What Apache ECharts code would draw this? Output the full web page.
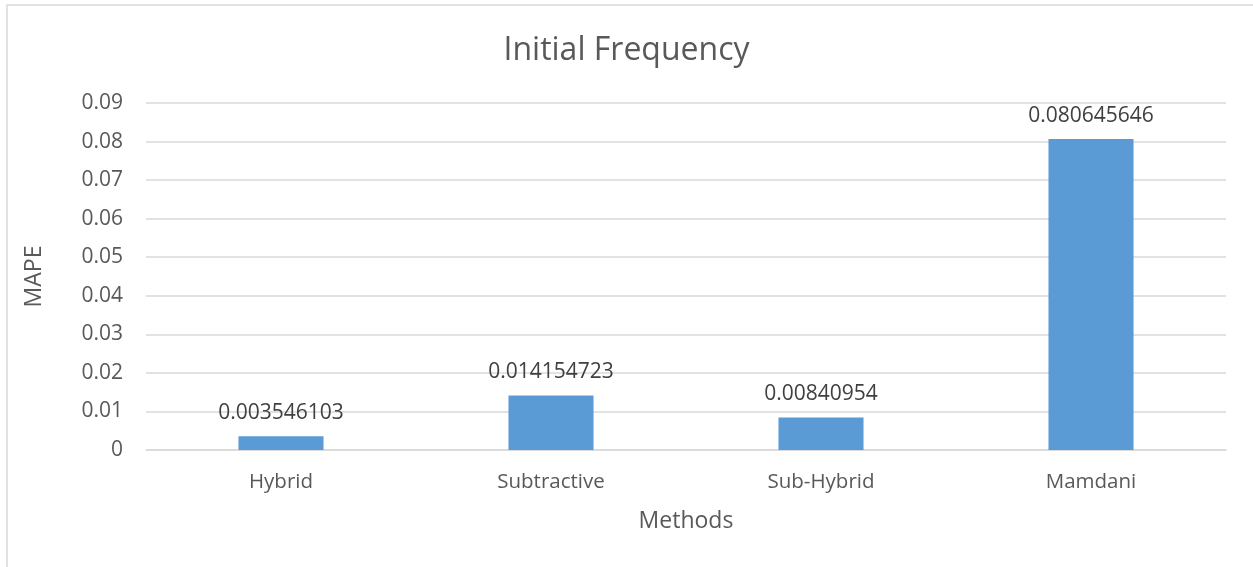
<!DOCTYPE html>
<html>
<head>
<meta charset="utf-8">
<script src="https://cdn.jsdelivr.net/npm/echarts@6/dist/echarts.min.js"></script>
<style>
html,body{margin:0;padding:0;background:#fff;}
#c{width:1253px;height:567px;}
</style>
</head>
<body>
<div id="c"></div>
<script>
const categories = ['Hybrid', 'Subtractive', 'Sub-Hybrid', 'Mamdani'];
const values = [0.003546103, 0.014154723, 0.00840954, 0.080645646];
const valueLabels = ['0.003546103', '0.014154723', '0.00840954', '0.080645646'];

const FONT = '"Open Sans", "Noto Sans", sans-serif';
const chart = echarts.init(document.getElementById('c'), null, {renderer: 'canvas'});
chart.setOption({
  backgroundColor: '#fff',
  animation: false,
  graphic: [{
    type: 'rect',
    shape: {x: 7, y: 5, width: 1300, height: 600},
    style: {fill: 'none', stroke: '#D9D9D9', lineWidth: 1.5},
    silent: true
  }],
  title: {
    text: 'Initial Frequency',
    left: 'center',
    top: 30,
    textStyle: {fontFamily: FONT, fontSize: 32, fontWeight: 'normal', color: '#595959'}
  },
  grid: {left: 146, right: 27, top: 103, bottom: 117, containLabel: false},
  xAxis: {
    type: 'category',
    data: categories,
    name: 'Methods',
    nameLocation: 'middle',
    nameGap: 60,
    nameTextStyle: {fontFamily: FONT, fontSize: 23, color: '#595959'},
    axisLine: {show: true, lineStyle: {color: '#D9D9D9', width: 1.5}},
    axisTick: {show: false},
    axisLabel: {fontFamily: FONT, fontSize: 20.5, color: '#595959', margin: 22}
  },
  yAxis: {
    type: 'value',
    min: 0,
    max: 0.09,
    interval: 0.01,
    name: 'MAPE',
    nameLocation: 'middle',
    nameGap: 100,
    nameRotate: 90,
    nameTextStyle: {fontFamily: FONT, fontSize: 23, color: '#595959'},
    axisLine: {show: false},
    axisTick: {show: false},
    axisLabel: {
      fontFamily: FONT, fontSize: 21, color: '#595959', margin: 23,
      formatter: function (v) { return v === 0 ? '0' : v.toFixed(2); }
    },
    splitLine: {lineStyle: {color: '#D9D9D9', width: 1.5}}
  },
  series: [{
    type: 'bar',
    data: values,
    barWidth: '31.5%',
    itemStyle: {color: '#5B9BD5'},
    label: {
      show: true,
      position: 'top',
      distance: 13,
      fontFamily: FONT,
      fontSize: 21,
      color: '#404040',
      formatter: function (p) { return valueLabels[p.dataIndex]; }
    }
  }]
});
</script>
</body>
</html>
